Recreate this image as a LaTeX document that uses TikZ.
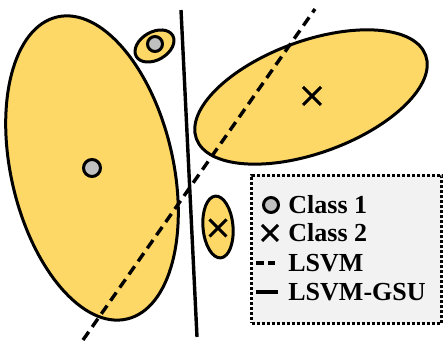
\documentclass[tikz,border=0pt]{standalone}
\usepackage{fontspec}
\setmainfont{Liberation Serif}
\usetikzlibrary{shapes.misc,positioning}
\definecolor{blobyellow}{RGB}{253,216,102}
\definecolor{dotgrey}{RGB}{192,192,192}
\definecolor{legendgrey}{RGB}{242,242,242}

\begin{document}
\begin{tikzpicture}[x=0.5pt,y=0.5pt,
		blob/.style={draw=black,fill=blobyellow,line width=1.5pt},
		classone/.style={circle,draw=black,fill=dotgrey,line width=1.5pt,inner sep=0pt,minimum size=8.5pt},
		classtwo/.style={cross out,draw=black,line width=1.5pt,inner sep=0pt,minimum size=7.5pt},
		svmline/.style={line width=1.7pt},
		svmdashed/.style={line width=1.7pt,dash pattern=on 5pt off 3pt},
		legendbox/.style={draw=black,fill=legendgrey,line width=1.7pt,dash pattern=on 1.5pt off 1pt},
		legendtext/.style={anchor=west,inner sep=0pt,font=\fontsize{13}{15}\selectfont\bfseries}]
		
		\useasboundingbox (0,0) rectangle (444,341);
		
		% class 1 distributions
		\draw[blob,rotate around={13:(92,173)}] (92,173) ellipse [x radius=81, y radius=155];
		\draw[blob,rotate around={30:(154.5,295)}] (154.5,295) ellipse [x radius=21, y radius=14];
		\node[classone] (c1) at (92,173) {};
		\node[classone,minimum size=7.5pt] (c2) at (155,297) {};
		
		% class 2 distributions
		\draw[blob,rotate around={20:(311,244)}] (311,244) ellipse [x radius=122, y radius=56];
		\draw[blob,rotate around={5:(218,114)}] (218,114) ellipse [x radius=15, y radius=31];
		\node[classtwo] (x1) at (312,245) {};
		\node[classtwo,minimum size=7pt] (x2) at (218,113) {};
		
		% decision boundaries
		\coordinate (gsutop) at (181,331);
		\coordinate (gsubot) at (197,4);
		\coordinate (svmtop) at (315,332);
		\coordinate (svmbot) at (83,1);
		\draw[svmline] (gsutop) -- (gsubot);
		\draw[svmdashed] (svmbot) -- (svmtop);
		
		% legend
		\node[legendbox,minimum width=95pt,minimum height=74pt,anchor=south west] (legend) at (250,16) {};
		\node[classone,minimum size=7.5pt] (l1) at (271,136) {};
		\node[classtwo,minimum size=6.5pt] (l2) at (270,108) {};
		\coordinate (l3a) at (256,78);
		\coordinate (l3b) at (275,78);
		\coordinate (l4a) at (256,49);
		\coordinate (l4b) at (278,49);
		\draw[svmline,line width=2pt,dash pattern=on 4pt off 2pt] (l3a) -- (l3b);
		\draw[svmline,line width=2pt] (l4a) -- (l4b);
		\node[legendtext] (t1) at (288,136) {Class 1};
		\node[legendtext] (t2) at (288,108) {Class 2};
		\node[legendtext] (t3) at (288,78) {LSVM};
		\node[legendtext] (t4) at (288,49) {LSVM-GSU};
		
	\end{tikzpicture}
\end{document}
